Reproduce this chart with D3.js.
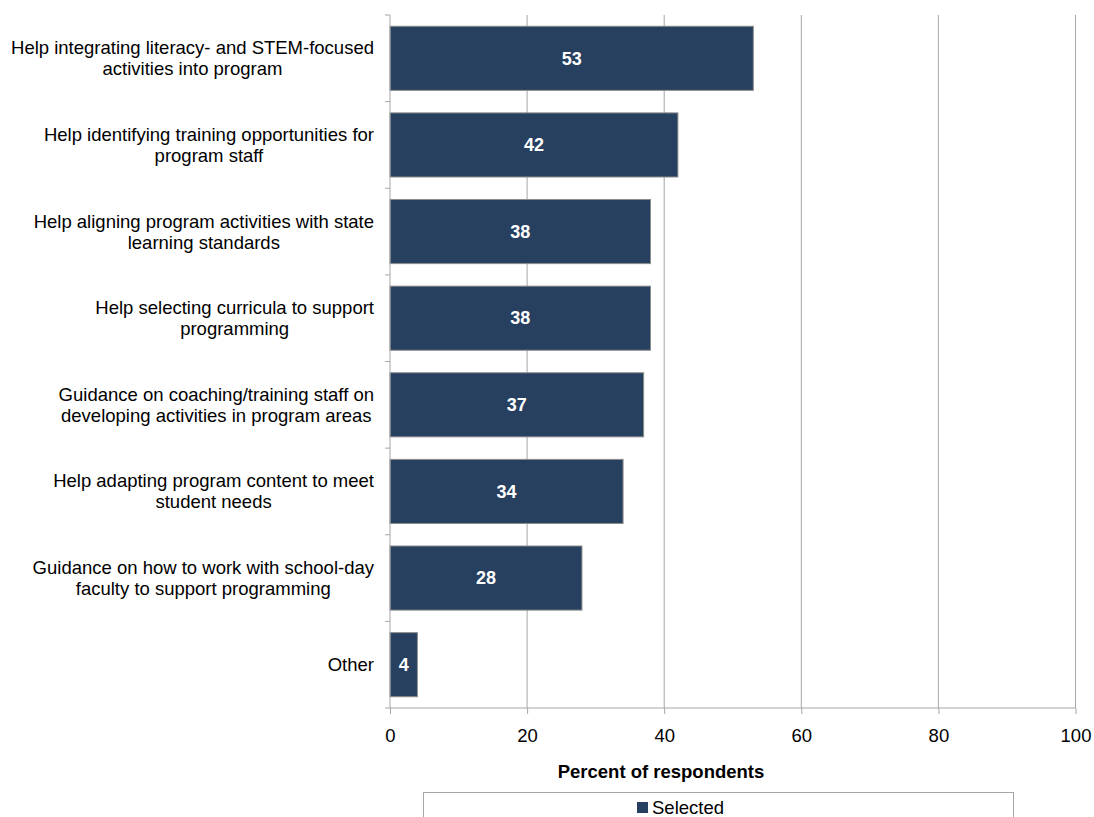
<!DOCTYPE html>
<html>
<head>
<meta charset="utf-8">
<script src="https://cdn.jsdelivr.net/npm/d3@7"></script>
<style>
  html, body { margin: 0; padding: 0; background: #fff; }
  svg { display: block; font-family: "Liberation Sans", Arial, sans-serif; }
</style>
</head>
<body>
<svg id="chart" width="1094" height="817"></svg>
<script>
// Survey items (each entry holds the wrapped label lines)
const categories = [
  ["Help integrating literacy- and STEM-focused", "activities into program"],
  ["Help identifying training opportunities for", "program staff"],
  ["Help aligning program activities with state", "learning standards"],
  ["Help selecting curricula to support", "programming"],
  ["Guidance on coaching/training staff on", "developing activities in program areas"],
  ["Help adapting program content to meet", "student needs"],
  ["Guidance on how to work with school-day", "faculty to support programming"],
  ["Other"]
];
const values = [53, 42, 38, 38, 37, 34, 28, 4];
const xTicks = [0, 20, 40, 60, 80, 100];
const seriesName = "Selected";
const axisTitle = "Percent of respondents";

const svg = d3.select("#chart");
const plot = { left: 390, right: 1075.5, top: 15, bottom: 708 };
const barColor = "#27405f";
const gridColor = "#a6a6a6";
const fontSize = 18.5;

const x = d3.scaleLinear().domain([0, 100]).range([plot.left, plot.right]);
const y = d3.scaleBand()
  .domain(d3.range(categories.length))
  .range([plot.top, plot.bottom])
  .paddingInner(0.26)
  .paddingOuter(0.13);

// Vertical gridlines
svg.append("g")
  .selectAll("line")
  .data(xTicks.filter(d => d > 0))
  .join("line")
  .attr("x1", d => x(d)).attr("x2", d => x(d))
  .attr("y1", plot.top).attr("y2", plot.bottom)
  .attr("stroke", gridColor).attr("stroke-width", 1);

// Bars
svg.append("g")
  .selectAll("rect")
  .data(values)
  .join("rect")
  .attr("x", x(0))
  .attr("y", (d, i) => y(i))
  .attr("width", d => x(d) - x(0))
  .attr("height", y.bandwidth())
  .attr("fill", barColor)
  .attr("stroke", "#8c8c8c")
  .attr("stroke-width", 1);

// Value labels inside bars
svg.append("g")
  .selectAll("text")
  .data(values)
  .join("text")
  .attr("x", d => (x(0) + x(d)) / 2)
  .attr("y", (d, i) => y(i) + y.bandwidth() / 2)
  .attr("dy", "0.35em")
  .attr("text-anchor", "middle")
  .attr("fill", "#fff")
  .attr("font-weight", "bold")
  .attr("font-size", 18)
  .text(d => d);

// Bottom axis
const xAxis = svg.append("g")
  .attr("transform", `translate(0,${plot.bottom})`)
  .call(d3.axisBottom(x).tickValues(xTicks).tickSize(6).tickSizeOuter(0));
xAxis.select(".domain").remove();
xAxis.append("line")
  .attr("x1", plot.left - 5).attr("x2", plot.right)
  .attr("y1", 0).attr("y2", 0)
  .attr("stroke", gridColor);
xAxis.selectAll(".tick line").attr("stroke", gridColor);
xAxis.selectAll(".tick text")
  .attr("y", 34)
  .attr("dy", 0)
  .attr("fill", "#000")
  .attr("font-size", fontSize)
  .attr("font-family", "Liberation Sans, Arial, sans-serif");

// Left axis line with ticks at band boundaries
const yAxisG = svg.append("g");
yAxisG.append("line")
  .attr("x1", plot.left).attr("x2", plot.left)
  .attr("y1", plot.top).attr("y2", plot.bottom)
  .attr("stroke", gridColor);
const step = y.step();
const boundaries = d3.range(categories.length).map(i => y(i) - step * y.paddingInner() / 2);
boundaries[0] = plot.top;
yAxisG.selectAll("line.tk")
  .data(boundaries)
  .join("line")
  .attr("class", "tk")
  .attr("x1", plot.left - 5).attr("x2", plot.left)
  .attr("y1", d => d).attr("y2", d => d)
  .attr("stroke", gridColor);

// Category labels: lines centred on each other, block right-aligned at the axis
const labelRight = 374;
const lineH = 21;
const labelG = svg.append("g")
  .attr("font-size", fontSize)
  .attr("fill", "#000");
categories.forEach((lines, i) => {
  const cy = y(i) + y.bandwidth() / 2;
  const g = labelG.append("g");
  const texts = lines.map((ln, j) => g.append("text")
    .attr("y", cy + (j - (lines.length - 1) / 2) * lineH)
    .attr("dy", "0.35em")
    .attr("text-anchor", "middle")
    .text(ln));
  const maxW = d3.max(texts, t => t.node().getComputedTextLength());
  texts.forEach(t => t.attr("x", labelRight - maxW / 2));
});

// Axis title
svg.append("text")
  .attr("x", 661)
  .attr("y", 778)
  .attr("text-anchor", "middle")
  .attr("font-weight", "bold")
  .attr("font-size", fontSize)
  .text(axisTitle);

// Legend
const legend = svg.append("g");
legend.append("rect")
  .attr("x", 423.5).attr("y", 792.5)
  .attr("width", 590).attr("height", 40)
  .attr("fill", "none")
  .attr("stroke", "#a6a6a6");
legend.append("rect")
  .attr("x", 637).attr("y", 802)
  .attr("width", 11).attr("height", 11)
  .attr("fill", barColor);
legend.append("text")
  .attr("x", 652).attr("y", 814)
  .attr("font-size", fontSize)
  .text(seriesName);
</script>
</body>
</html>
